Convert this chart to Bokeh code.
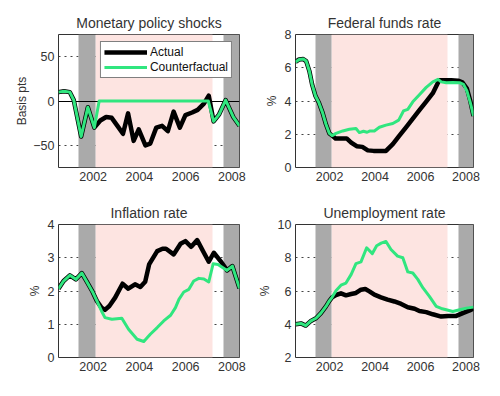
from bokeh.plotting import figure
from bokeh.layouts import gridplot
from bokeh.models import FixedTicker, Legend, LegendItem
from bokeh.embed import file_html
from bokeh.resources import INLINE

# ---------------- data ----------------
x_range_years = [2000.5, 2008.33]
x_ticks = [2002, 2004, 2006, 2008]

# shaded periods (grey = start/end windows, pink = counterfactual window)
grey_left = [2001.37, 2007.65]
grey_right = [2002.10, 2008.33]
pink_left = [2002.10]
pink_right = [2007.17]

# Monetary policy shocks (basis pts)
shock_x_actual = [2000.50, 2000.74, 2000.99, 2001.16, 2001.48, 2001.77, 2002.05, 2002.31,
                  2002.56, 2002.80, 2003.05, 2003.29, 2003.51, 2003.75, 2003.97, 2004.26,
                  2004.47, 2004.73, 2004.98, 2005.23, 2005.48, 2005.75, 2005.99, 2006.28,
                  2006.52, 2006.79, 2007.00, 2007.21, 2007.45, 2007.73, 2008.06, 2008.33]
shock_actual = [10, 11, 10, 1, -40, -7, -30, -22,
                -18, -19, -28, -37, -14, -45, -32, -50,
                -48, -30, -28, -34, -12, -30, -16, -13,
                -10, -3, 6, -23, -15, 1, -18, -28]
shock_x_cf = [2000.50, 2000.74, 2000.99, 2001.16, 2001.48, 2001.77, 2002.05, 2002.26,
              2006.98, 2007.21, 2007.45, 2007.73, 2008.06, 2008.33]
shock_cf = [10, 11, 10, 1, -40, -7, -30, 0,
            0, -23, -15, 1, -18, -28]
shock_zero = [0]

# Federal funds rate (%)
ff_x_actual = [2000.50, 2000.66, 2000.84, 2000.97, 2001.11, 2001.23, 2001.38, 2001.53,
               2001.69, 2001.84, 2001.99, 2002.11, 2002.26, 2002.75, 2002.95, 2003.19,
               2003.44, 2003.68, 2003.93, 2004.48, 2004.78, 2005.07, 2005.37, 2005.66,
               2005.95, 2006.25, 2006.54, 2006.82, 2006.96, 2007.35, 2007.65, 2007.84,
               2008.04, 2008.19, 2008.33]
ff_actual = [6.35, 6.5, 6.52, 6.4, 5.8, 5.0, 4.3, 3.9,
             3.3, 2.6, 2.05, 1.92, 1.75, 1.75, 1.5, 1.28,
             1.24, 1.03, 1.0, 1.0, 1.41, 1.92, 2.43, 2.94,
             3.45, 3.96, 4.47, 5.25, 5.25, 5.25, 5.22, 5.12,
             4.75, 4.0, 3.1]
ff_x_cf = [2000.50, 2000.66, 2000.84, 2000.97, 2001.11, 2001.23, 2001.38, 2001.53,
           2001.69, 2001.84, 2001.99, 2002.11, 2002.28, 2002.58, 2002.87, 2003.16,
           2003.31, 2003.49, 2003.65, 2003.78, 2003.97, 2004.19, 2004.48, 2004.78,
           2005.04, 2005.25, 2005.44, 2005.66, 2005.95, 2006.25, 2006.54, 2006.77,
           2006.91, 2007.13, 2007.42, 2007.72, 2007.89, 2008.04, 2008.19, 2008.33]
ff_cf = [6.35, 6.5, 6.52, 6.4, 5.8, 5.0, 4.3, 3.9,
         3.3, 2.6, 2.05, 1.92, 2.05, 2.2, 2.3, 2.35,
         2.1, 2.18, 2.12, 2.2, 2.2, 2.42, 2.55, 2.65,
         2.85, 3.4, 3.5, 3.95, 4.38, 4.82, 5.15, 5.3,
         5.15, 5.1, 5.12, 5.1, 5.0, 4.6, 3.9, 3.1]

# Inflation rate (%)
inf_x_actual = [2000.50, 2000.72, 2000.99, 2001.25, 2001.51, 2001.75, 2001.97, 2002.16,
                2002.36, 2002.51, 2002.70, 2002.95, 2003.27, 2003.52, 2003.81, 2004.04,
                2004.25, 2004.42, 2004.77, 2005.00, 2005.15, 2005.48, 2005.78, 2005.99,
                2006.24, 2006.50, 2006.79, 2007.00, 2007.22, 2007.51, 2007.79, 2008.02,
                2008.33]
inf_actual = [2.07, 2.3, 2.47, 2.35, 2.54, 2.25, 1.98, 1.7,
              1.5, 1.43, 1.55, 1.8, 2.22, 2.07, 2.2, 2.12,
              2.28, 2.8, 3.2, 3.27, 3.27, 3.1, 3.42, 3.5,
              3.33, 3.53, 3.15, 2.88, 3.15, 2.9, 2.62, 2.75,
              2.08]
inf_x_cf = [2000.50, 2000.72, 2000.99, 2001.25, 2001.51, 2001.75, 2001.97, 2002.16,
            2002.36, 2002.51, 2002.81, 2003.24, 2003.53, 2003.90, 2004.19, 2004.47,
            2004.77, 2005.05, 2005.35, 2005.56, 2005.71, 2005.92, 2006.14, 2006.35,
            2006.57, 2006.79, 2007.00, 2007.19, 2007.40, 2007.66, 2007.79, 2008.02,
            2008.33]
inf_cf = [2.07, 2.3, 2.47, 2.35, 2.54, 2.25, 1.98, 1.7,
          1.4, 1.2, 1.15, 1.18, 0.85, 0.55, 0.48, 0.7,
          0.9, 1.1, 1.27, 1.5, 1.75, 1.97, 2.05, 2.3,
          2.38, 2.36, 2.27, 2.82, 2.8, 2.68, 2.62, 2.75,
          2.08]

# Unemployment rate (%)
un_x_actual = [2000.50, 2000.74, 2000.95, 2001.18, 2001.40, 2001.62, 2001.84, 2001.99,
               2002.11, 2002.28, 2002.50, 2002.72, 2002.95, 2003.16, 2003.38, 2003.57,
               2003.75, 2003.97, 2004.26, 2004.55, 2004.85, 2005.15, 2005.44, 2005.74,
               2005.95, 2006.25, 2006.54, 2006.91, 2007.21, 2007.57, 2007.86, 2008.16,
               2008.33]
un_actual = [4.0, 4.05, 3.92, 4.2, 4.36, 4.67, 5.07, 5.41,
             5.62, 5.76, 5.86, 5.74, 5.82, 5.88, 6.08, 6.12,
             5.98, 5.78, 5.62, 5.48, 5.37, 5.22, 5.02, 4.93,
             4.8, 4.73, 4.6, 4.46, 4.5, 4.5, 4.67, 4.83,
             4.95]
un_x_cf = [2000.50, 2000.74, 2000.95, 2001.18, 2001.40, 2001.62, 2001.84, 2001.99,
           2002.11, 2002.28, 2002.50, 2002.72, 2002.95, 2003.16, 2003.38, 2003.63,
           2003.88, 2004.07, 2004.27, 2004.48, 2004.70, 2004.99, 2005.22, 2005.44,
           2005.66, 2005.88, 2006.10, 2006.39, 2006.69, 2006.91, 2007.13, 2007.42,
           2007.72, 2008.02, 2008.33]
un_cf = [4.0, 4.05, 3.92, 4.2, 4.36, 4.67, 5.07, 5.41,
         5.62, 6.02, 6.35, 6.48, 7.0, 7.65, 7.75, 8.6,
         8.25, 8.72, 8.88, 8.98, 8.5, 8.1, 8.0, 7.15,
         7.08, 6.7, 6.2, 5.68, 5.07, 4.95, 4.87, 4.77,
         4.87, 4.97, 5.03]

# ---------------- style ----------------
FONT = "Liberation Sans"
TXT = "#333333"
BLACK = "#000000"
GREEN = "#30e67f"
GREY = "#aaaaaa"
PINK = "#fde4e1"


def make_panel(title, ylabel, yrange, yticks, xa, ya, xc, yc,
               frame_w, mb_left, mb_right, label_standoff, legend=False, zero=None):
    p = figure(frame_width=frame_w, frame_height=133,
               x_range=tuple(x_range_years), y_range=tuple(yrange),
               output_backend="svg", toolbar_location=None,
               min_border_left=mb_left, min_border_right=mb_right,
               min_border_top=34, min_border_bottom=23,
               background_fill_color="white", border_fill_color="white",
               title=title)
    p.title.align = "center"
    p.title.text_font = FONT
    p.title.text_font_size = "14px"
    p.title.text_font_style = "normal"
    p.title.text_color = TXT
    p.title.standoff = 8

    p.xaxis.ticker = FixedTicker(ticks=x_ticks)
    p.yaxis.ticker = FixedTicker(ticks=yticks)
    for ax in (p.xaxis[0], p.yaxis[0]):
        ax.axis_line_color = None
        ax.major_tick_line_color = None
        ax.minor_tick_line_color = None
        ax.major_tick_out = 0
        ax.major_tick_in = 0
        ax.minor_tick_out = 0
        ax.minor_tick_in = 0
        ax.major_label_text_font = FONT
        ax.major_label_text_font_size = "12.5px"
        ax.major_label_text_color = TXT
    p.xaxis.major_label_standoff = 4
    p.yaxis.major_label_standoff = 4
    p.yaxis.axis_label = ylabel
    p.yaxis.axis_label_text_font = FONT
    p.yaxis.axis_label_text_font_size = "12px"
    p.yaxis.axis_label_text_font_style = "normal"
    p.yaxis.axis_label_text_color = TXT
    p.yaxis.axis_label_standoff = label_standoff

    p.xgrid.visible = False
    p.ygrid.grid_line_color = "#444444"
    p.ygrid.grid_line_dash = "2 4"
    p.ygrid.grid_line_width = 1

    p.outline_line_color = "#333333"
    p.outline_line_width = 1

    # shaded periods as glyphs (drawn above the dotted grid, below the lines)
    p.vstrip(x0=pink_left, x1=pink_right, fill_color=PINK, fill_alpha=1, line_color=None)
    p.vstrip(x0=grey_left, x1=grey_right, fill_color=GREY, fill_alpha=1, line_color=None)
    if zero is not None:
        p.hspan(y=zero, line_color="black", line_width=1)

    ra = p.line(xa, ya, line_color=BLACK, line_width=4.5, line_join="round")
    rc = p.line(xc, yc, line_color=GREEN, line_width=3, line_join="round")

    if legend:
        lg = Legend(items=[LegendItem(label="Actual", renderers=[ra]),
                           LegendItem(label="Counterfactual", renderers=[rc])],
                    location="top_right", margin=7, padding=3, spacing=1,
                    glyph_width=43, glyph_height=14, label_height=14,
                    label_standoff=3, label_text_font=FONT,
                    label_text_font_size="12px", label_text_color="#111111",
                    border_line_color="black", border_line_width=1,
                    background_fill_color="white", background_fill_alpha=1)
        p.add_layout(lg)
    return p


p1 = make_panel("Monetary policy shocks", "Basis pts", [-75, 75], [-50, 0, 50],
                shock_x_actual, shock_actual, shock_x_cf, shock_cf,
                181, 58, 11, 1, legend=True, zero=shock_zero)
p2 = make_panel("Federal funds rate", "%", [0, 8], [0, 2, 4, 6, 8],
                ff_x_actual, ff_actual, ff_x_cf, ff_cf, 178, 45, 18, 3)
p3 = make_panel("Inflation rate", "%", [0, 4], [0, 1, 2, 3, 4],
                inf_x_actual, inf_actual, inf_x_cf, inf_cf, 181, 58, 11, 3)
p4 = make_panel("Unemployment rate", "%", [2, 10], [2, 4, 6, 8, 10],
                un_x_actual, un_actual, un_x_cf, un_cf, 178, 45, 18, 3)

grid = gridplot([[p1, p2], [p3, p4]], toolbar_location=None)

open("out.html", "w").write(file_html(grid, INLINE))
